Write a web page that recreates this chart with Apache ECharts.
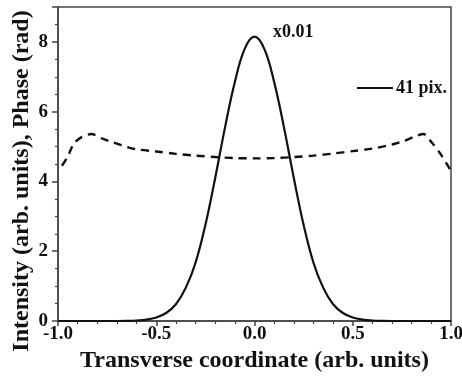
<!DOCTYPE html>
<html>
<head>
<meta charset="utf-8">
<script src="https://cdn.jsdelivr.net/npm/echarts@6/dist/echarts.min.js"></script>
<style>
  html, body { margin: 0; padding: 0; background: #fff; }
  #chart { width: 462px; height: 383px; }
</style>
</head>
<body>
<div id="chart"></div>
<script>
// intensity profile (scaled x0.01), read at 0.05 steps
const intensityX = [-1.0, -0.95, -0.9, -0.85, -0.8, -0.75, -0.7, -0.65, -0.6, -0.55, -0.5, -0.45, -0.4, -0.35, -0.3, -0.25, -0.2, -0.15, -0.1, -0.05,
  0, 0.05, 0.1, 0.15, 0.2, 0.25, 0.3, 0.35, 0.4, 0.45, 0.5, 0.55, 0.6, 0.65, 0.7, 0.75, 0.8, 0.85, 0.9, 0.95, 1.0];
const intensityY = [0, 0, 0, 0, 0, 0, 0, 0.004, 0.015, 0.04, 0.1, 0.23, 0.48, 0.95, 1.67, 2.75, 4.1, 5.55, 6.85, 7.8,
  8.15, 7.8, 6.85, 5.55, 4.1, 2.75, 1.67, 0.95, 0.48, 0.23, 0.1, 0.04, 0.015, 0.004, 0, 0, 0, 0, 0, 0, 0];

// phase profile (dashed)
const phaseX = [-0.98, -0.95, -0.92, -0.88, -0.83, -0.78, -0.72, -0.65, -0.6, -0.5, -0.4, -0.3, -0.2, -0.1, 0,
  0.1, 0.2, 0.3, 0.4, 0.5, 0.6, 0.7, 0.76, 0.82, 0.86, 0.9, 0.95, 1.0];
const phaseY = [4.45, 4.72, 5.08, 5.27, 5.36, 5.24, 5.12, 4.99, 4.92, 4.86, 4.79, 4.74, 4.70, 4.67, 4.66,
  4.67, 4.70, 4.74, 4.80, 4.87, 4.94, 5.06, 5.16, 5.30, 5.36, 5.13, 4.76, 4.30];

const seriesName = "41 pix.";
const scaleNote = "x0.01";

const font = "'Liberation Serif', 'Times New Roman', serif";
const ink = "#111";
const axisGray = "#444";

const chart = echarts.init(document.getElementById("chart"), null, { renderer: "canvas" });

chart.setOption({
  animation: false,
  backgroundColor: "#fff",
  title: {
    text: scaleNote,
    left: 268,
    top: 18,
    textStyle: { fontFamily: font, fontWeight: "bold", fontSize: 18, color: ink },
  },
  legend: {
    data: [{ name: seriesName, icon: "rect" }],
    left: 352,
    top: 74,
    itemWidth: 36,
    itemHeight: 2,
    itemGap: 4,
    textStyle: { fontFamily: font, fontWeight: "bold", fontSize: 18, color: ink, padding: [0, 0, 0, -2] },
  },
  grid: {
    left: 58,
    right: 11,
    top: 7,
    bottom: 62,
    containLabel: false,
    outerBoundsMode: "none",
    show: true,
    borderColor: axisGray,
    borderWidth: 1.5,
  },
  xAxis: {
    type: "value",
    min: -1,
    max: 1,
    interval: 0.5,
    name: "Transverse coordinate (arb. units)",
    nameLocation: "middle",
    nameGap: 22,
    nameTextStyle: { fontFamily: font, fontWeight: "bold", fontSize: 24, color: ink },
    axisLine: { onZero: false, lineStyle: { color: axisGray, width: 1.5 } },
    axisTick: { inside: false, length: 5, lineStyle: { color: axisGray, width: 1.5 } },
    minorTick: { show: true, splitNumber: 5, length: 3, lineStyle: { color: axisGray, width: 1.2 } },
    splitLine: { show: false },
    axisLabel: {
      margin: 4,
      fontFamily: font,
      fontWeight: "bold",
      fontSize: 19,
      color: ink,
      formatter: (v) => v.toFixed(1),
    },
  },
  yAxis: {
    type: "value",
    min: 0,
    max: 9,
    interval: 2,
    name: "Intensity (arb. units), Phase (rad)",
    nameLocation: "middle",
    nameGap: 24,
    nameMoveOverlap: false,
    nameTextStyle: { fontFamily: font, fontWeight: "bold", fontSize: 24, color: ink, padding: [0, 34, 0, 0] },
    axisLine: { onZero: false, lineStyle: { color: axisGray, width: 1.5 } },
    axisTick: { inside: false, length: 6, lineStyle: { color: axisGray, width: 1.5 } },
    minorTick: { show: true, splitNumber: 4, length: 3, lineStyle: { color: axisGray, width: 1.2 } },
    splitLine: { show: false },
    axisLabel: {
      margin: 10,
      showMaxLabel: false,
      fontFamily: font,
      fontWeight: "bold",
      fontSize: 19,
      color: ink,
    },
  },
  series: [
    {
      name: seriesName,
      type: "line",
      symbol: "none",
      smooth: 0.4,
      data: intensityX.map((x, i) => [x, intensityY[i]]),
      lineStyle: { color: ink, width: 2.2 },
      itemStyle: { color: ink },
      z: 3,
    },
    {
      name: "Phase",
      type: "line",
      symbol: "none",
      smooth: 0.3,
      data: phaseX.map((x, i) => [x, phaseY[i]]),
      lineStyle: { color: ink, width: 2.4, type: [8, 6] },
      itemStyle: { color: ink },
      z: 2,
    },
  ],
});
</script>
</body>
</html>
